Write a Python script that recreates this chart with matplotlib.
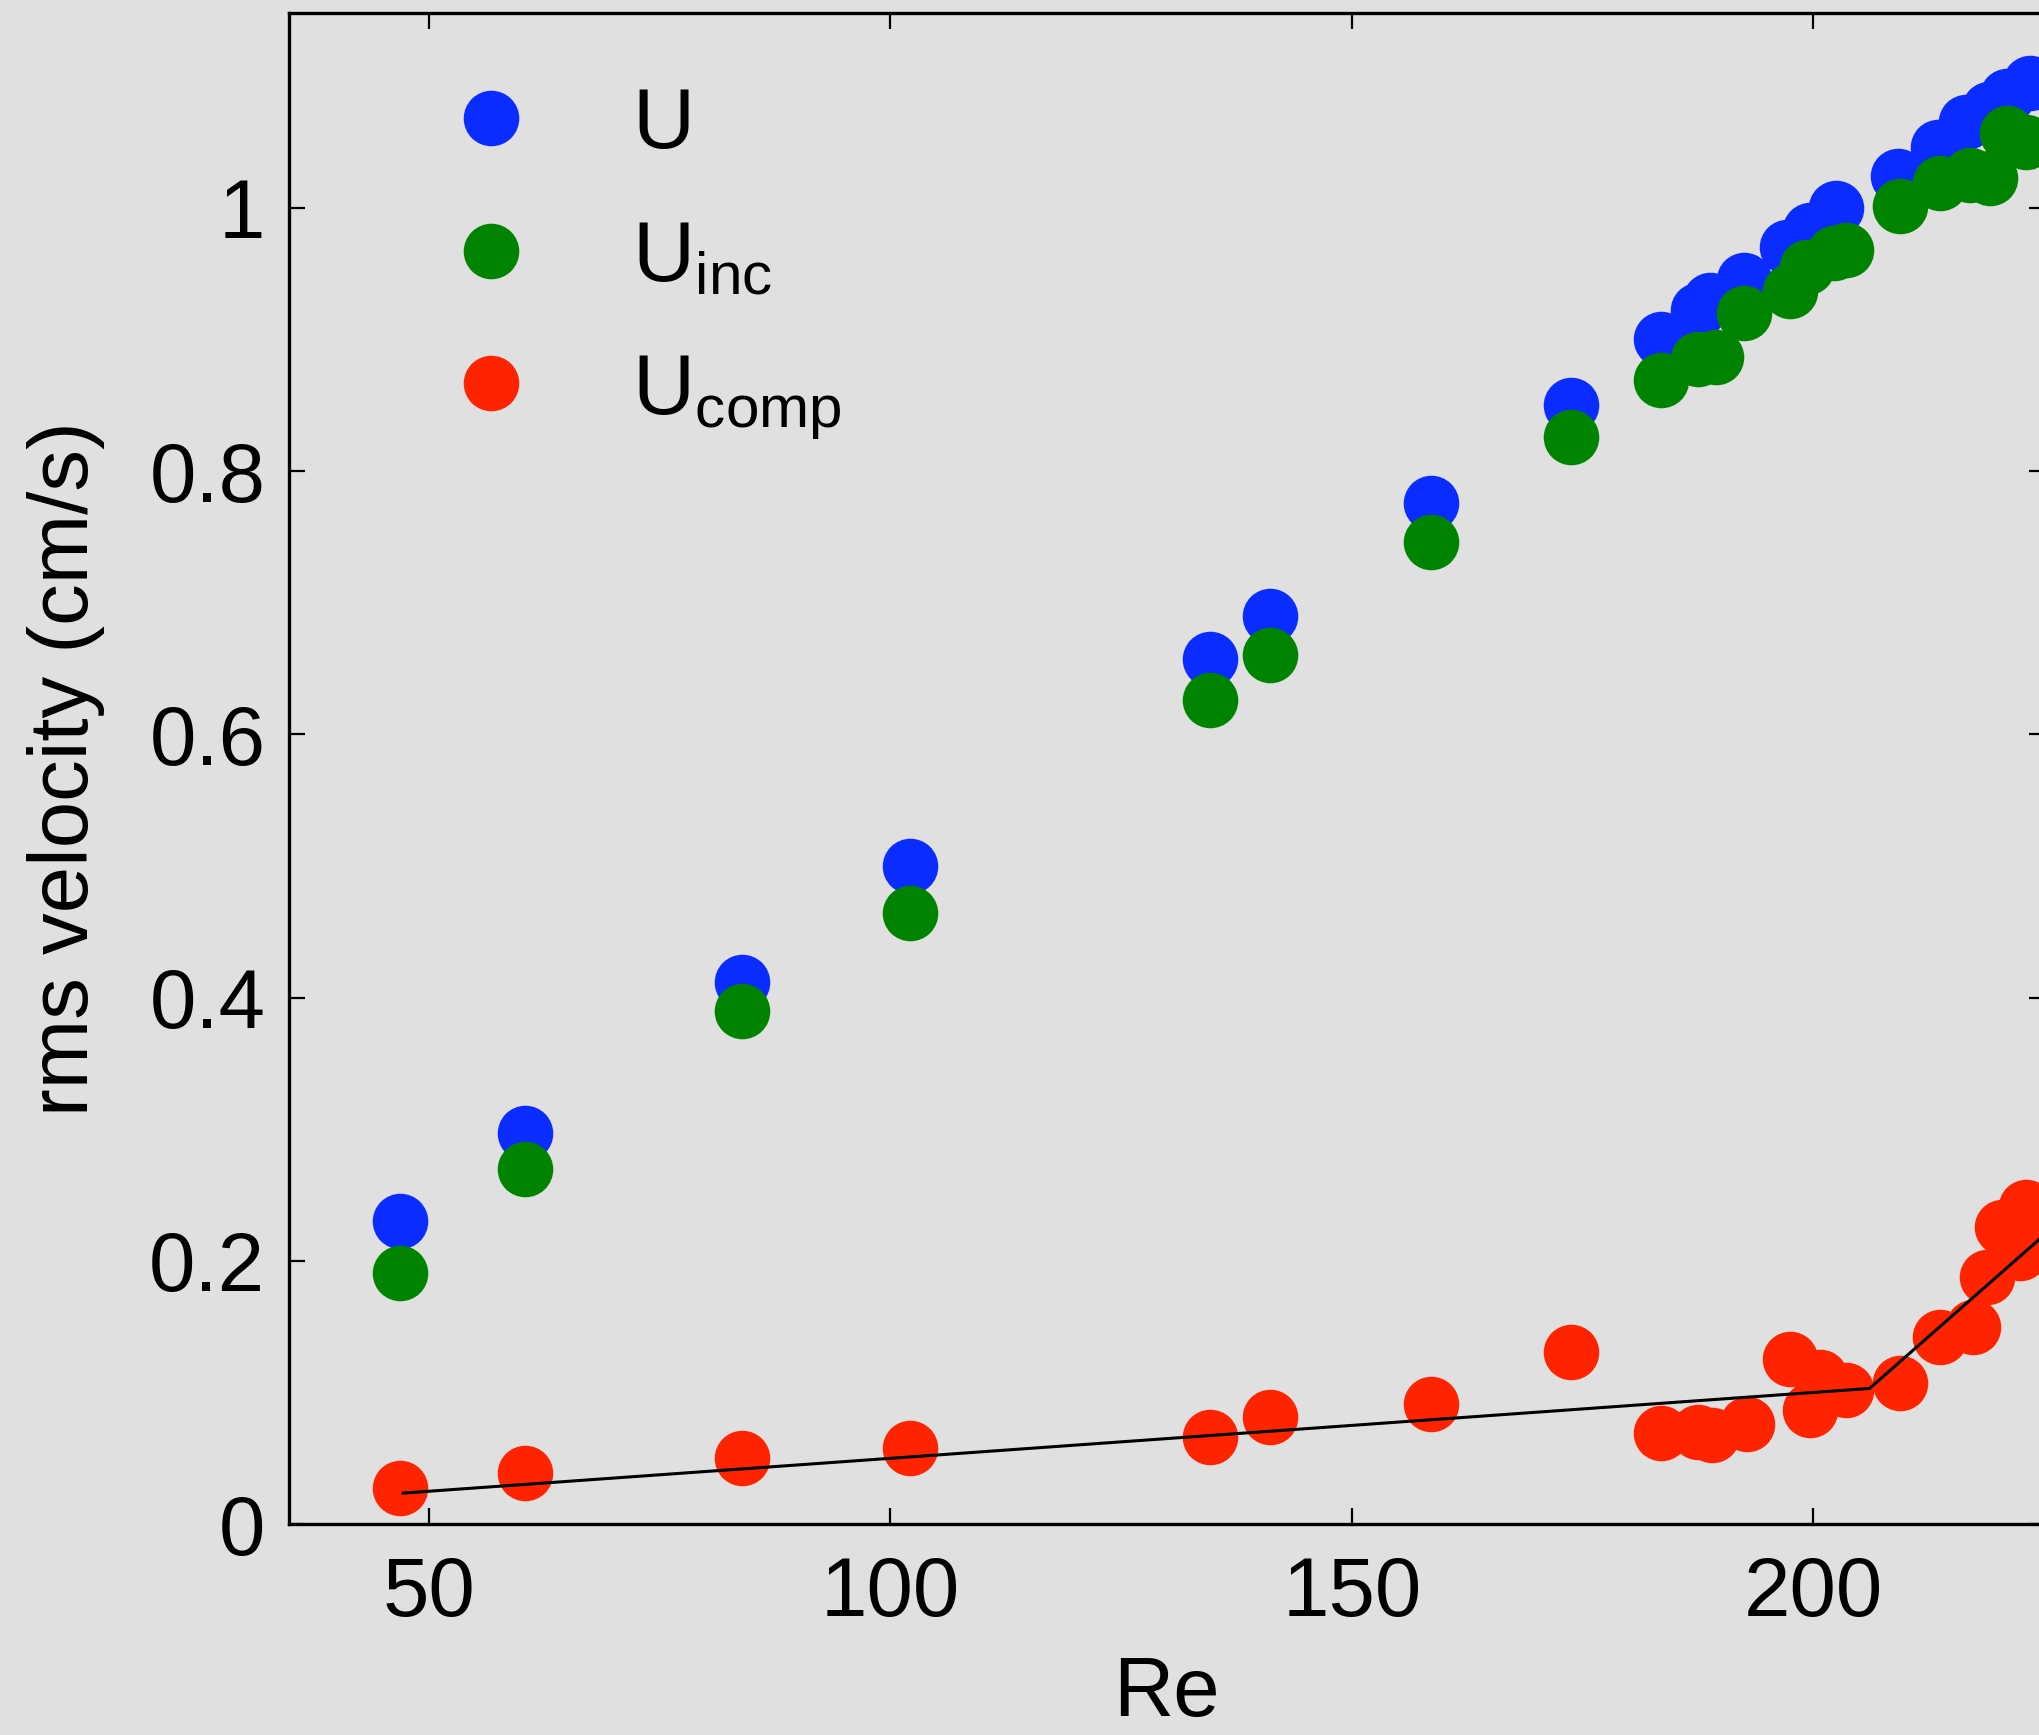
import matplotlib.pyplot as plt
import numpy as np

plt.rcParams['font.family'] = ['Liberation Sans', 'DejaVu Sans']
plt.rcParams['mathtext.fontset'] = 'custom'
plt.rcParams['mathtext.rm'] = 'Liberation Sans'
plt.rcParams['mathtext.it'] = 'Liberation Sans'

re_u = [46.9, 60.4, 83.9, 102.1, 134.6, 141.1, 158.6, 173.7, 183.5, 187.5, 188.8, 192.5,
        197.2, 199.6, 202.5, 209.2, 213.5, 216.6, 219.0, 221.0, 223.5]
u = [0.230, 0.297, 0.412, 0.500, 0.657, 0.690, 0.776, 0.850, 0.900, 0.922, 0.930, 0.945,
     0.970, 0.983, 1.000, 1.024, 1.046, 1.065, 1.075, 1.085, 1.095]

re_inc = [46.9, 60.4, 83.9, 102.1, 134.6, 141.1, 158.6, 173.7, 183.5, 187.5, 189.5, 192.5,
          197.5, 199.3, 202.3, 203.6, 209.4, 213.7, 217.0, 219.1, 221.0, 223.1]
u_inc = [0.191, 0.270, 0.390, 0.464, 0.626, 0.660, 0.746, 0.826, 0.869, 0.885, 0.887, 0.920,
         0.937, 0.955, 0.966, 0.968, 1.001, 1.019, 1.025, 1.023, 1.057, 1.050]

re_comp = [46.9, 60.4, 83.9, 102.1, 134.6, 141.1, 158.6, 173.7, 183.5, 187.5, 189.0, 192.8,
           197.5, 199.6, 200.7, 203.6, 209.4, 213.7, 217.3, 218.8, 220.5, 222.4, 223.1]
u_comp = [0.027, 0.039, 0.050, 0.058, 0.066, 0.081, 0.091, 0.131, 0.069, 0.070, 0.068, 0.076,
          0.125, 0.087, 0.112, 0.102, 0.107, 0.142, 0.150, 0.188, 0.226, 0.206, 0.241]

fit_re = [47.2, 206.1, 235.0]
fit_u = [0.0235, 0.103, 0.281]

yticks = [0, 0.2, 0.4, 0.6, 0.8, 1]
ylabels = ['0', '0.2', '0.4', '0.6', '0.8', '1']
xticks = [50, 100, 150, 200]

bg = '#e0e0e0'
fig = plt.figure(figsize=(20.39, 17.35), dpi=100, facecolor=bg)
ax = fig.add_axes([0.1417, 0.1216, 0.8612, 0.8709], facecolor=bg)

ms = 40
ax.plot(re_u, u, 'o', ms=ms, color='#0a2cff', mec='none', label=r'$\mathregular{U}$', zorder=2)
ax.plot(re_inc, u_inc, 'o', ms=ms, color='#008400', mec='none', label=r'$\mathregular{U_{inc}}$', zorder=3)
ax.plot(re_comp, u_comp, 'o', ms=ms, color='#ff2400', mec='none', label=r'$\mathregular{U_{comp}}$', zorder=3)
ax.plot(fit_re, fit_u, color='black', lw=2.2, zorder=4)

ax.set_xticks(xticks)
ax.set_yticks(yticks)
ax.set_yticklabels(ylabels)
ax.set_xlim(34.83, 225.1)
ax.set_ylim(0, 1.148)

ax.tick_params(direction='in', length=11.5, width=1.6, labelsize=60, top=True, right=True)
ax.tick_params(axis='x', pad=22)
ax.tick_params(axis='y', pad=17)
for s in ax.spines.values():
    s.set_linewidth(2.4)

ax.set_xlabel('Re', fontsize=60, labelpad=16)
ax.set_ylabel('rms velocity (cm/s)', fontsize=60, labelpad=32)

ax.legend(loc='upper left', bbox_to_anchor=(0.066, 0.98), frameon=False, fontsize=62,
          handlelength=1.0, handletextpad=1.14, labelspacing=0.61, borderpad=0, numpoints=1)

plt.savefig('out.png', dpi=100, facecolor=bg)
